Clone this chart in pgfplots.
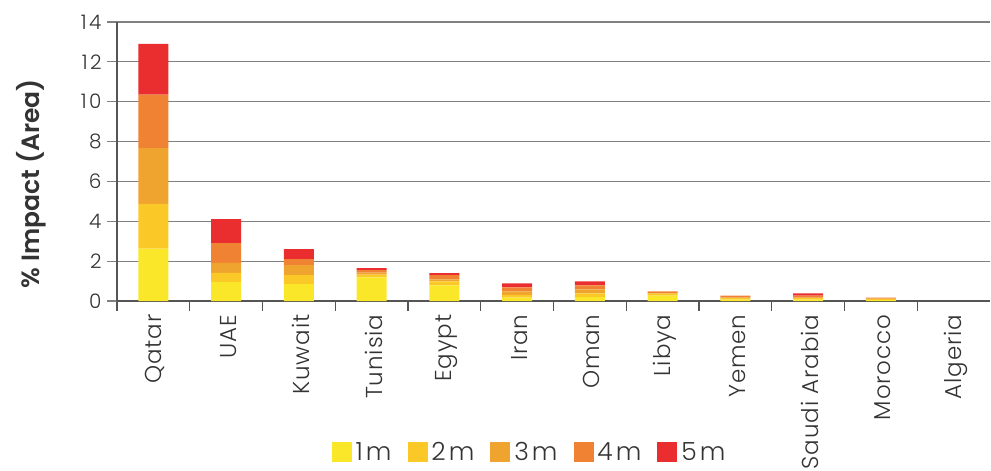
\documentclass[border=0pt]{standalone}
\usepackage{fontspec}
\setmainfont{Poppins}[UprightFont=* Light, BoldFont=* SemiBold]
\usepackage{pgfplots}
\usepackage{pgfplotstable}
\pgfplotsset{compat=1.18}
\definecolor{cA}{HTML}{FBE72A}
\definecolor{cB}{HTML}{FBC927}
\definecolor{cC}{HTML}{EFA42F}
\definecolor{cD}{HTML}{F08233}
\definecolor{cE}{HTML}{EA2D2E}
\definecolor{gridgray}{HTML}{808080}
\definecolor{axisgray}{HTML}{555555}
\definecolor{txt}{HTML}{333333}
\pgfplotstableread{
x c1 c2 c3 c4 c5
0 2.63 2.24 2.80 2.68 2.55
1 0.96 0.45 0.50 1.00 1.20
2 0.85 0.45 0.50 0.30 0.50
3 1.19 0.13 0.10 0.13 0.10
4 0.79 0.20 0.10 0.21 0.10
5 0.17 0.14 0.17 0.20 0.21
6 0.20 0.18 0.20 0.21 0.20
7 0.27 0.10 0.03 0.08 0.00
8 0.07 0.07 0.03 0.10 0.00
9 0.07 0.07 0.03 0.10 0.11
10 0.05 0.05 0.02 0.05 0.00
11 0.00 0.00 0.00 0.00 0.00
}\data
\begin{document}
\begin{tikzpicture}
\useasboundingbox (-117bp,-170bp) rectangle (874bp,301bp);
\begin{axis}[
  scale only axis, width=873bp, height=279bp,
  ybar stacked, bar width=30bp,
  xmin=-0.5, xmax=11.5, ymin=0, ymax=14,
  ytick={0,2,...,14},
  xtick={0,...,11},
  xticklabels={Qatar,UAE,Kuwait,Tunisia,Egypt,Iran,Oman,Libya,Yemen,Saudi Arabia,Morocco,Algeria},
  minor xtick={-0.5,0.5,...,10.5},
  axis x line*=bottom, axis y line*=left,
  axis line style={draw=axisgray, line width=1.2bp},
  ymajorgrids, grid style={draw=gridgray, line width=1.2bp},
  tick align=outside, major tick length=10bp, minor tick length=10bp,
  every major x tick/.append style={draw=none},
  every minor x tick/.append style={draw=axisgray, line width=1.2bp},
  ytick style={draw=gridgray, line width=1.2bp},
  /pgf/number format/assume math mode=true,
  tick label style={font=\fontsize{20bp}{24bp}\selectfont\addfontfeatures{LetterSpace=12}, text=txt},
  yticklabel style={xshift=-2bp},
  xticklabel style={font=\fontsize{23bp}{28bp}\selectfont\addfontfeatures{LetterSpace=4}, rotate=90, anchor=east, yshift=-2bp},
  ylabel={\% Impact (Area)},
  ylabel style={font=\fontsize{25bp}{30bp}\selectfont\bfseries, text=txt, at={(axis description cs:-0.098,0.42)}, anchor=center},
  legend columns=5,
  legend style={at={(0.4725,-0.541)}, anchor=center, draw=none, fill=none,
    font=\fontsize{25bp}{30bp}\selectfont\addfontfeatures{LetterSpace=12}, text=txt,
    /tikz/every odd column/.append style={column sep=2bp},
    /tikz/every even column/.append style={column sep=14bp},
    inner sep=0pt},
  legend image code/.code={\fill[#1] (0bp,-10bp) rectangle (20bp,10bp);},
]
\addplot[fill=cA, draw=none] table[x=x, y=c1] {\data};
\addplot[fill=cB, draw=none] table[x=x, y=c2] {\data};
\addplot[fill=cC, draw=none] table[x=x, y=c3] {\data};
\addplot[fill=cD, draw=none] table[x=x, y=c4] {\data};
\addplot[fill=cE, draw=none] table[x=x, y=c5] {\data};
\legend{1m,2m,3m,4m,5m}
\end{axis}
\end{tikzpicture}
\end{document}
